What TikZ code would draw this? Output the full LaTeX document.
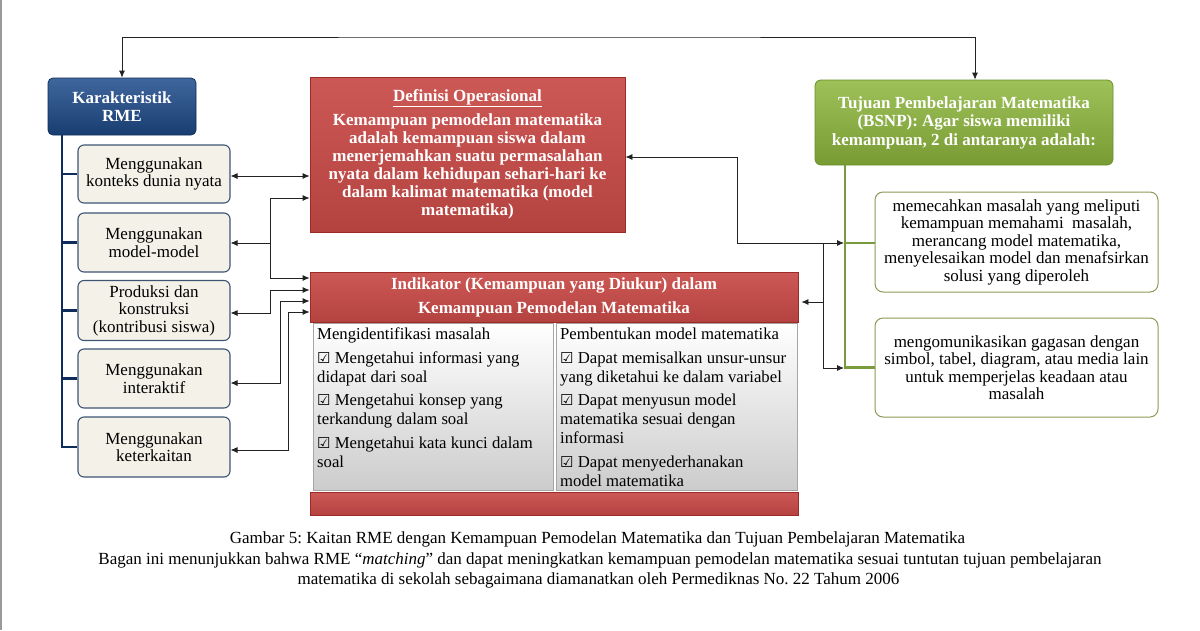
\documentclass[tikz,border=0pt]{standalone}
\usepackage{fontspec}
\setmainfont{Liberation Serif}
\newfontfamily\symfont{DejaVu Sans}
\usetikzlibrary{arrows.meta}
\frenchspacing
\newcommand\cbx{{\symfont\fontsize{15}{15}\selectfont ☑}}
\definecolor{rmeblue}{HTML}{1E4C8C}
\definecolor{rmedark}{HTML}{0E2C5C}
\definecolor{defred}{HTML}{C84A47}
\definecolor{defdark}{HTML}{9E2A28}
\definecolor{tjgreen}{HTML}{8DB63C}
\definecolor{tjdark}{HTML}{6A9028}
\definecolor{beige}{HTML}{F4F2E8}
\definecolor{slate}{HTML}{3E5474}
\definecolor{olive}{HTML}{8C9A55}
\definecolor{conn}{HTML}{222222}
\tikzset{
  txt/.style={font=\fontsize{17}{17.5}\selectfont, align=center},
  lbox/.style={draw=slate, line width=1.1pt, rounded corners=6pt, fill=beige,
    minimum width=152pt, txt, inner sep=0pt},
  rbox/.style={draw=olive, line width=1pt, rounded corners=8pt, fill=white,
    minimum width=283pt, txt, inner sep=0pt},
  redbox/.style={draw=defdark, line width=0.8pt, top color=defred!92!white, bottom color=defred!90!black,
    text=white, font=\bfseries\fontsize{17}{18}\selectfont, align=center, inner sep=0pt},
  colbox/.style={draw=gray!70, line width=0.6pt, top color=white, bottom color=gray!40,
    minimum width=240pt, minimum height=167pt, inner sep=0pt},
  coltxt/.style={font=\fontsize{16.7}{19}\selectfont, align=left, inner sep=0pt, anchor=north west},
  arr/.style={draw=conn, line width=0.8pt, -{Latex[length=7pt,width=6pt]}},
  arrl/.style={draw=conn, line width=0.8pt, {Latex[length=7pt,width=6pt]}-},
  arrb/.style={draw=conn, line width=0.8pt, {Latex[length=7pt,width=6pt]}-{Latex[length=7pt,width=6pt]}},
  bline/.style={draw=rmedark, line width=2.6pt},
  gline/.style={draw=tjdark!90, line width=2.6pt},
  captxt/.style={font=\fontsize{17}{18}\selectfont, anchor=base, inner sep=0pt},
}
\begin{document}
\begin{tikzpicture}[x=1pt,y=-1pt]
\useasboundingbox (0,0) rectangle (1200,630);
\fill[white] (0,0) rectangle (1200,630);
\draw[gray!80, line width=1.5pt] (1,0) -- (1,630);

% Karakteristik RME
\node[draw=rmedark, line width=0.8pt, rounded corners=5pt, top color=rmeblue!85!white, bottom color=rmeblue!80!black,
  text=white, font=\bfseries\fontsize{17}{18}\selectfont, align=center,
  minimum width=148pt, minimum height=57pt, inner sep=0pt] (rme) at (122,106.5) {Karakteristik\\RME};

\node[lbox, minimum height=58pt] (l1) at (154,174) {Menggunakan\\konteks dunia nyata};
\node[lbox, minimum height=59pt] (l2) at (154,242.5) {Menggunakan\\model-model};
\node[lbox, minimum height=60pt] (l3) at (154,310.5) {Produksi dan\\konstruksi\\(kontribusi siswa)};
\node[lbox, minimum height=59pt] (l4) at (154,378.5) {Menggunakan\\interaktif};
\node[lbox, minimum height=60pt] (l5) at (154,447) {Menggunakan\\keterkaitan};

\draw[bline] (rme.south -| 62,0) |- (l5.west);
\foreach \b in {l1,l2,l3,l4} \draw[bline] (\b.west -| 62,0) -- (\b.west);

% Definisi Operasional
\node[redbox, minimum width=315pt, minimum height=155pt] (def) at (467.5,154.5)
  {\underline{Definisi Operasional}\\[6.5pt]
   Kemampuan pemodelan matematika\\
   adalah kemampuan siswa dalam\\
   menerjemahkan suatu permasalahan\\
   nyata dalam kehidupan sehari-hari ke\\
   dalam kalimat matematika (model\\
   matematika)};

% Indikator
\node[redbox, minimum width=488pt, minimum height=50pt, font=\bfseries\fontsize{17}{24}\selectfont] (indh) at (554,297)
  {Indikator (Kemampuan yang Diukur) dalam\\Kemampuan Pemodelan Matematika};
\node[colbox] (colL) at (433,406.5) {};
\node[colbox, minimum width=241pt] (colR) at (676.5,406.5) {};
\node[redbox, minimum width=488pt, minimum height=23pt] (indf) at (554,503.5) {};
\node[coltxt] (tL) at (317,328)
  {Mengidentifikasi masalah\\[4.5pt]
   \cbx\ Mengetahui informasi yang\\
   didapat dari soal\\[4.5pt]
   \cbx\ Mengetahui konsep yang\\
   terkandung dalam soal\\[4.5pt]
   \cbx\ Mengetahui kata kunci dalam\\
   soal};
\node[coltxt] (tR) at (560,328)
  {Pembentukan model matematika\\[4.5pt]
   \cbx\ Dapat memisalkan unsur-unsur\\
   yang diketahui ke dalam variabel\\[4.5pt]
   \cbx\ Dapat menyusun model\\
   matematika sesuai dengan\\
   informasi\\[4.5pt]
   \cbx\ Dapat menyederhanakan\\
   model matematika};

% Tujuan
\node[draw=tjdark, line width=0.8pt, rounded corners=6pt, top color=tjgreen!85!white, bottom color=tjgreen!85!black,
  text=white, font=\bfseries\fontsize{17}{18.5}\selectfont, align=center,
  minimum width=298pt, minimum height=85pt, inner sep=0pt] (tuj) at (964,122.5)
  {Tujuan Pembelajaran Matematika\\(BSNP): Agar siswa memiliki\\kemampuan, 2 di antaranya adalah:};

\node[rbox, minimum height=100pt] (r1) at (1016.5,242)
  {memecahkan masalah yang meliputi\\kemampuan memahami\ \ masalah,\\merancang model matematika,\\menyelesaikan model dan menafsirkan\\solusi yang diperoleh};
\node[rbox, minimum height=99pt] (r2) at (1016.5,367.5)
  {mengomunikasikan gagasan dengan\\simbol, tabel, diagram, atau media lain\\untuk memperjelas keadaan atau\\masalah};

\draw[gline] (tuj.south -| 845,0) |- (r2.west);
\draw[gline] (845,243) -- (r1.west |- 0,243);
\coordinate (g1) at (844,243);
\coordinate (g2) at (844,368);

% top connector
\draw[arrb] (rme.north) |- (550,37) -| ([xshift=11pt]tuj.north);

% left connectors
\draw[arrb] (l1.east |- 0,176) -- (def.west |- 0,176);
\draw[arrl] (l2.east |- 0,243) -- (270,243);
\draw[arr] (270,243) |- (def.west |- 0,198);
\draw[arr] (270,243) |- (indh.west |- 0,278);
\draw[arrb] (l3.east |- 0,313) -- (270,313) -- (270,290) -- (indh.west |- 0,290);
\draw[arrb] (l4.east |- 0,383) -- (280,383) -- (280,301) -- (indh.west |- 0,301);
\draw[arrb] (l5.east |- 0,450) -- (288,450) -- (288,312) -- (indh.west |- 0,312);

% right connectors
\draw[arrb] (def.east |- 0,157) -- (737,157) -- (737,243) -- (g1);
\draw[arr] (823,243) |- (g2);
\draw[arr] (823,302) -- ([xshift=3pt]indh.east |- 0,302);

% caption
\node[captxt] (c1) at (597.5,543) {Gambar 5: Kaitan RME dengan Kemampuan Pemodelan Matematika dan Tujuan Pembelajaran Matematika};
\node[captxt] (c2) at (600,564) {Bagan ini menunjukkan bahwa RME “\textit{matching}” dan dapat meningkatkan kemampuan pemodelan matematika sesuai tuntutan tujuan pembelajaran};
\node[captxt] (c3) at (598.5,584) {matematika di sekolah sebagaimana diamanatkan oleh Permediknas No.\ 22 Tahum 2006};
\end{tikzpicture}
\end{document}
